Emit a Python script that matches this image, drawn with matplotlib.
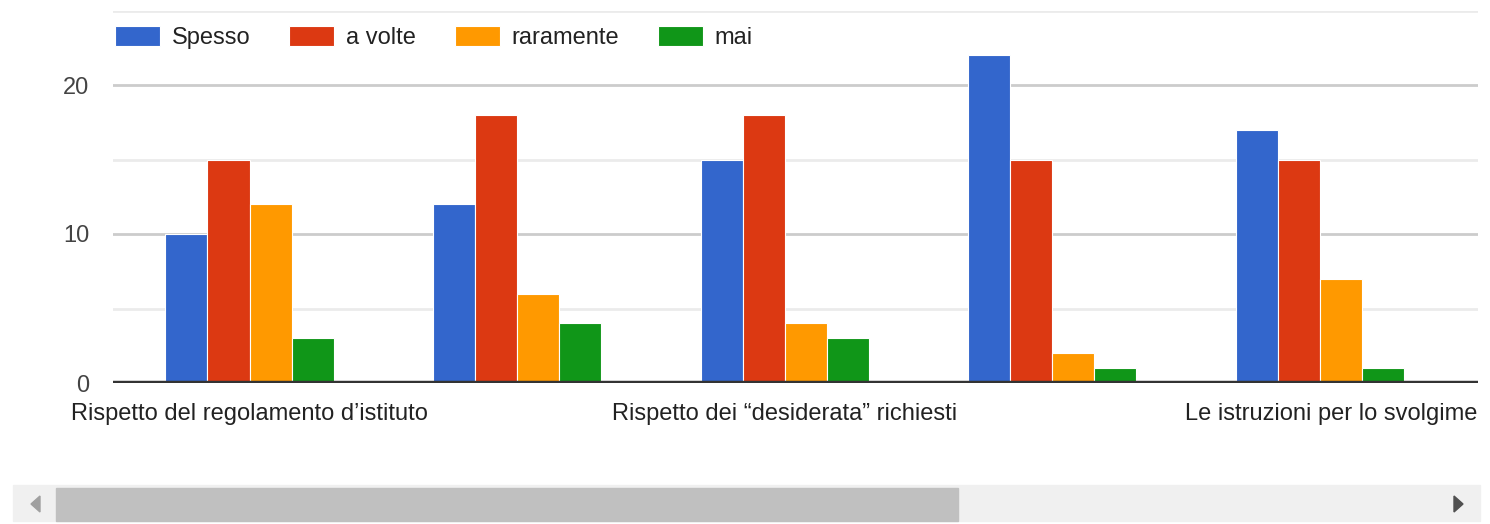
import numpy as np
import matplotlib.pyplot as plt
from matplotlib.patches import Rectangle, Polygon

plt.rcParams['font.family'] = ['Liberation Sans', 'DejaVu Sans']

# ----- Data -----
series = ["Spesso", "a volte", "raramente", "mai"]
colors = ["#3366cc", "#dc3912", "#ff9900", "#109618"]
spesso = [10, 12, 15, 22, 17]
a_volte = [15, 18, 18, 15, 15]
raramente = [12, 6, 4, 2, 7]
mai = [3, 4, 3, 1, 1]
values = [spesso, a_volte, raramente, mai]
labels = ["Rispetto del regolamento d\u2019istituto", "",
          "Rispetto dei \u201cdesiderata\u201d richiesti", "",
          "Le istruzioni per lo svolgime"]

# ----- Plot -----
fig = plt.figure(figsize=(14.9, 5.24), dpi=100)
ax = fig.add_axes([113/1490, 1 - 383/524, (1478-113)/1490, (383-10.5)/524])

x = np.arange(len(spesso))
w = 0.157
for i, (vals, c, name) in enumerate(zip(values, colors, series)):
    ax.bar(x + (i - 1.5) * w, vals, width=w, color=c, edgecolor="white",
           linewidth=0.8, label=name, zorder=3)

ax.set_xlim(-0.51, 4.59)
ax.set_ylim(0, 25)
ax.set_yticks([0, 10, 20])
ax.set_yticks([5, 15, 25], minor=True)
ax.grid(axis="y", which="major", color="#cccccc", linewidth=2, zorder=0)
ax.grid(axis="y", which="minor", color="#ebebeb", linewidth=2, zorder=0)
ax.axhline(0, color="#333333", linewidth=3.2, zorder=4)
for s in ax.spines.values():
    s.set_visible(False)
ax.tick_params(axis="y", which="both", length=0, labelsize=17, colors="#444444", pad=17)
ax.tick_params(axis="x", length=0)
ax.set_xticks([])

# category labels (the chart is scrolled, last one cut at the edge)
for xi, lab in zip(x, labels):
    if not lab:
        continue
    if xi == 4:
        ax.text((1186 - 249) / 268, -1.37, lab, ha="left", va="top", fontsize=17,
                color="#222222")
    else:
        ax.text(xi, -1.37, lab, ha="center", va="top", fontsize=17, color="#222222")

leg = ax.legend(loc="upper left", bbox_to_anchor=(0.0015, 0.958), ncol=4, frameon=False,
                fontsize=17, handlelength=1.9, handleheight=0.92, handletextpad=0.5,
                columnspacing=1.65, borderaxespad=0, borderpad=0, labelcolor="#222222")

# scrollbar
fig.patches.append(Rectangle((13/1490, 1 - 521/524), (1480-13)/1490, 36/524,
                             transform=fig.transFigure, color="#f0f0f0", zorder=0))
fig.patches.append(Rectangle((56/1490, 1 - 521/524), (958-56)/1490, 33/524,
                             transform=fig.transFigure, color="#c0c0c0", zorder=1))
fig.patches.append(Polygon([(40/1490, 1 - 496/524), (40/1490, 1 - 512/524), (31/1490, 1 - 504/524)],
                           transform=fig.transFigure, color="#a0a0a0", zorder=1))
fig.patches.append(Polygon([(1454/1490, 1 - 496/524), (1454/1490, 1 - 512/524), (1463/1490, 1 - 504/524)],
                           transform=fig.transFigure, color="#505050", zorder=1))

fig.savefig("out.png", dpi=100)
